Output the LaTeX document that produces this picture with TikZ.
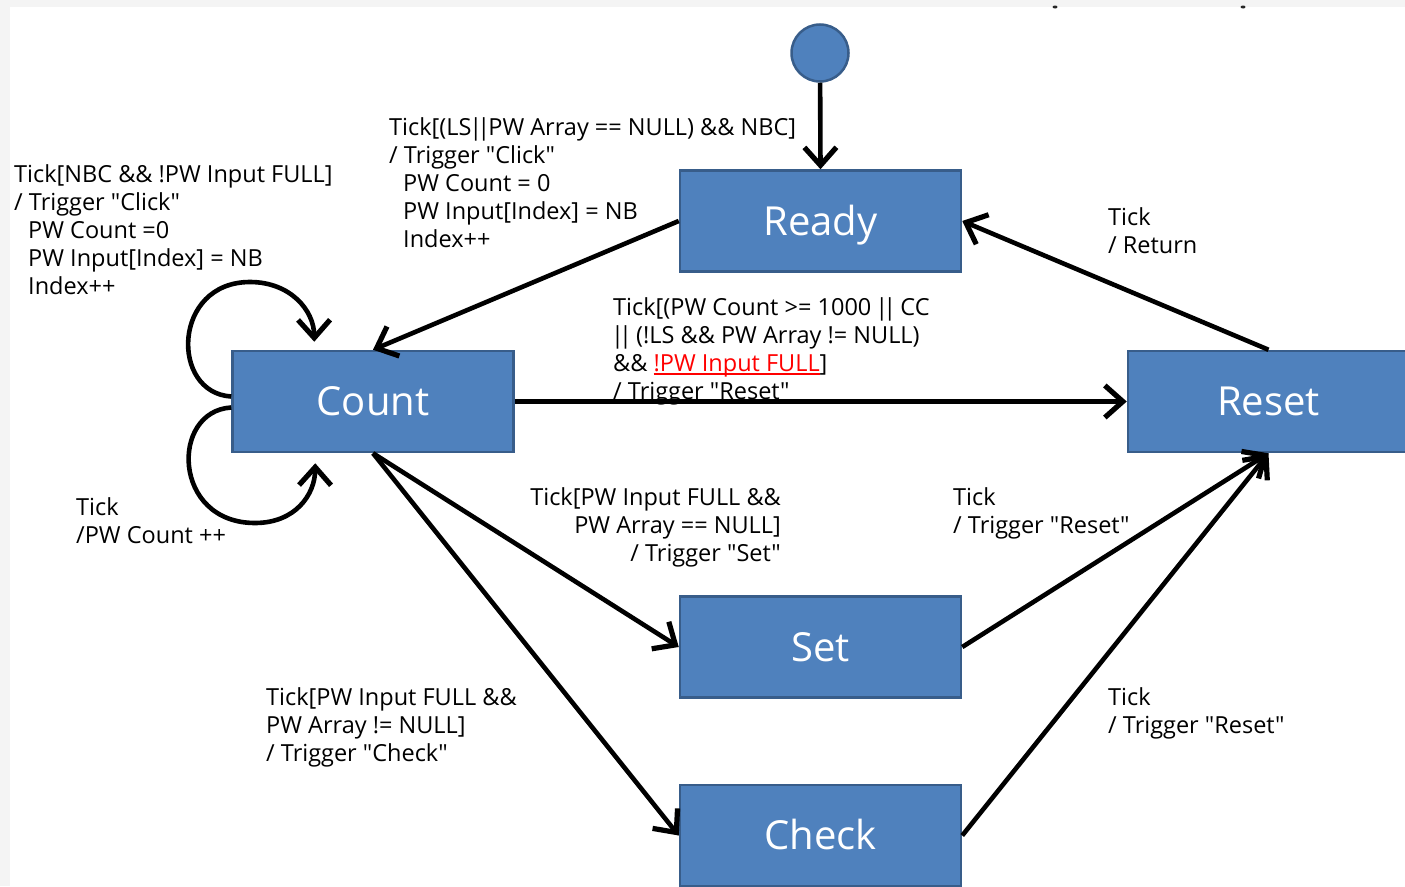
\documentclass[tikz,border=0pt]{standalone}
\usepackage{fontspec}
\setmainfont{Open Sans}
\newfontfamily\lblfont{Open Sans}
\usetikzlibrary{arrows.meta,calc}
\definecolor{stateblue}{HTML}{4F81BD}
\definecolor{stateedge}{HTML}{385D8A}
\definecolor{pagegray}{HTML}{F4F4F4}
\definecolor{guardred}{HTML}{FF0000}
% red, underlined part of a guard
\newcommand\guardul[1]{\textcolor{guardred}{\setbox0=\hbox{#1}\rlap{\rule[-3.5pt]{\wd0}{1.4pt}}\box0}}
% tight logical "or"
\newcommand\guardor{\kern-2pt|\kern-5pt|\kern-2pt}
\newcommand\lines[2]{\begin{tabular}[t]{@{}#1@{}}#2\end{tabular}}

\begin{document}
\begin{tikzpicture}[x=1pt,y=-1pt,
  state/.style={draw=stateedge, line width=2.5pt, fill=stateblue,
    minimum width=281pt, minimum height=101pt, inner sep=0pt, text=white,
    font=\fontsize{40}{48}\selectfont, text height=28.6pt, text depth=0pt},
  initstate/.style={draw=stateedge, line width=2.5pt, fill=stateblue,
    circle, minimum size=57pt, inner sep=0pt},
  trans/.style={line width=4.6pt, -{Straight Barb[length=18pt,width=32pt,line width=5.2pt]}},
  lbl/.style={inner sep=0pt, anchor=base west, text=black,
    font=\lblfont\fontsize{23.5}{28}\selectfont},
  lblr/.style={lbl, anchor=base east},
]
\useasboundingbox (0,0) rectangle (1405,886);
\clip (0,0) rectangle (1405,886);
\fill[white] (0,0) rectangle (1405,886);
\fill[pagegray] (0,0) rectangle (1405,7);
\fill[pagegray] (0,0) rectangle (10,886);
\fill[black!85] (1055,7) ellipse (2.5 and 1.5);
\fill[black!85] (1243,7) ellipse (2.5 and 1.5);

% states
\node[initstate] (init) at (820,53) {};
\node[state] (ready) at (820.5,221) {Ready};
\node[state] (count) at (373,401.5) {Count};
\node[state] (reset) at (1268.5,401.5) {Reset};
\node[state] (set) at (820.5,647) {Set};
\node[state] (check) at (820.5,835.5) {Check};

% guards and actions
\node[lbl] (lready) at (389,135) {\lines{l}{Tick[(LS\guardor PW Array == NULL) \&\& NBC]\\
  / Trigger "Click"\\
  \hspace*{14pt}PW Count = 0\\
  \hspace*{14pt}PW Input[Index] = NB\\
  \hspace*{14pt}Index++}};
\node[lbl] (lclick) at (14,182) {\lines{l}{Tick[NBC \&\& !PW Input FULL]\\
  / Trigger "Click"\\
  \hspace*{14pt}PW Count =0\\
  \hspace*{14pt}PW Input[Index] = NB\\
  \hspace*{14pt}Index++}};
\node[lbl] (lreturn) at (1108,225) {\lines{l}{Tick\\ / Return}};
\node[lbl] (lreset) at (613,315) {\lines{l}{Tick[(PW Count >= 1000 \guardor\ CC\\
  \guardor\ (!LS \&\& PW Array != NULL)\\
  \&\& \guardul{!PW Input FULL}]\\
  / Trigger "Reset"}};
\node[lbl] (ltick) at (76,515) {\lines{l}{Tick\\ /PW Count ++}};
\node[lblr] (lset) at (781,505) {\lines{r}{Tick[PW Input FULL \&\&\\
  PW Array == NULL]\\
  / Trigger "Set"}};
\node[lbl] (lsetreset) at (953,505) {\lines{l}{Tick\\ / Trigger "Reset"}};
\node[lbl] (lcheck) at (266,705) {\lines{l}{Tick[PW Input FULL \&\&\\
  PW Array != NULL]\\
  / Trigger "Check"}};
\node[lbl] (lcheckreset) at (1108,705) {\lines{l}{Tick\\ / Trigger "Reset"}};

% transitions
\coordinate (looptop) at ($(count.north west)+(83,-8)$);
\coordinate (loopbot) at ($(count.south west)+(84,10)$);

\draw[trans] (init) -- (ready.north);
\draw[trans] (ready.west) -- (count.north);
\draw[trans] (count.east) -- (reset.west);
\draw[trans] (reset.north) -- (ready.east);
\draw[trans] (count.south) -- (set.west);
\draw[trans] (count.south) -- (check.west);
\draw[trans] (set.east) -- (reset.south);
\draw[trans] (check.east) -- (reset.south);
\draw[trans] ([yshift=5pt]count.west) .. controls (170,393) and (172,282) .. (250,282)
  .. controls (290,282) and (314,310) .. (looptop);
\draw[trans] ([yshift=-6pt]count.west) .. controls (170,411) and (172,523) .. (255,523)
  .. controls (295,523) and (315,495) .. (loopbot);
\end{tikzpicture}
\end{document}
